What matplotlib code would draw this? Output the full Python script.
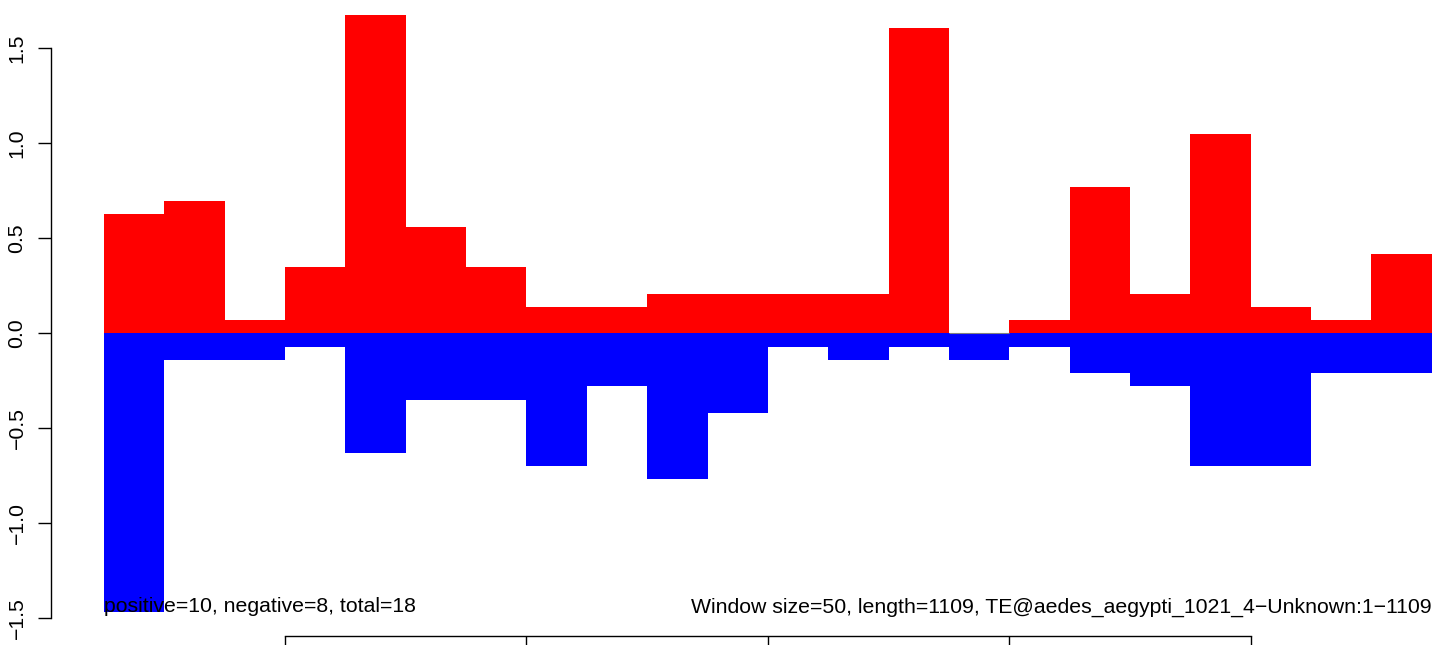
import numpy as np
import matplotlib
matplotlib.use("Agg")
import matplotlib.pyplot as plt

# ---- data ----
window_size = 50
window_starts = [50, 100, 150, 200, 250, 300, 350, 400, 450, 500, 550,
                 600, 650, 700, 750, 800, 850, 900, 950, 1000, 1050, 1100]
positive = [0.628, 0.698, 0.070, 0.349, 1.675, 0.558, 0.349, 0.140, 0.140, 0.209, 0.209,
            0.209, 0.209, 1.605, 0.000, 0.070, 0.768, 0.209, 1.047, 0.140, 0.070, 0.419]
negative = [-1.466, -0.140, -0.140, -0.070, -0.628, -0.349, -0.349, -0.698, -0.279, -0.768, -0.419,
            -0.070, -0.140, -0.070, -0.140, -0.070, -0.209, -0.279, -0.698, -0.698, -0.209, -0.209]
y_ticks = [-1.5, -1.0, -0.5, 0.0, 0.5, 1.0, 1.5]
y_tick_labels = ["\u22121.5", "\u22121.0", "\u22120.5", "0.0", "0.5", "1.0", "1.5"]
x_ticks = [200, 400, 600, 800, 1000]
left_note = "positive=10, negative=8, total=18"
right_note = "Window size=50, length=1109, TE@aedes_aegypti_1021_4\u2212Unknown:1\u22121109"

plt.rcParams['font.family'] = ['Liberation Sans', 'DejaVu Sans']

W, H = 1444, 645
fig = plt.figure(figsize=(W / 100, H / 100), dpi=100)
ax = fig.add_axes([0, 0, 1, 1])

# pixel -> data mapping chosen to match reference layout
pxpb = 1.207            # pixels per bp
x0_px = 104.0           # pixel of x=50
ax.set_xlim(50 - x0_px / pxpb, 50 + (W - x0_px) / pxpb)
zero_py, ppu = 333.3, 190.0
ax.set_ylim(-(H - zero_py) / ppu, zero_py / ppu)

ax.bar(window_starts, positive, width=window_size, align='edge',
       color='#FF0000', linewidth=0)
ax.bar(window_starts, negative, width=window_size, align='edge',
       color='#0000FF', linewidth=0)
# zero-height positive windows show as a faint grey line
zs = [s for s, p in zip(window_starts, positive) if p == 0]
ax.hlines([0] * len(zs), zs, [s + window_size for s in zs], color='#808080', lw=0.8)

# axes styling (R base graphics look)
for s in ['top', 'right']:
    ax.spines[s].set_visible(False)
ax.spines['left'].set_position(('data', 50 + (50.7 - x0_px) / pxpb))
ax.spines['left'].set_bounds(-1.5, 1.5)
ax.spines['left'].set_linewidth(1.0)
ax.spines['bottom'].set_position(('data', (zero_py - 636) / ppu))
ax.spines['bottom'].set_bounds(200, 1000)
ax.spines['bottom'].set_linewidth(1.0)

ax.set_yticks(y_ticks)
ax.set_yticklabels(y_tick_labels, rotation=90, va='center', fontsize=15.3)
ax.tick_params(axis='y', direction='out', length=9.4, width=1.0, pad=8)
ax.set_xticks(x_ticks)
ax.tick_params(axis='x', direction='out', length=9.4, width=1.0, labelbottom=False)
ax.patch.set_alpha(0)

base_y = (zero_py - 612.5) / ppu
ax.text(50, base_y, left_note, ha='left', va='baseline', fontsize=15.3)
ax.text(1150, base_y, right_note, ha='right', va='baseline', fontsize=15.3)

fig.savefig("out.png", dpi=100)
